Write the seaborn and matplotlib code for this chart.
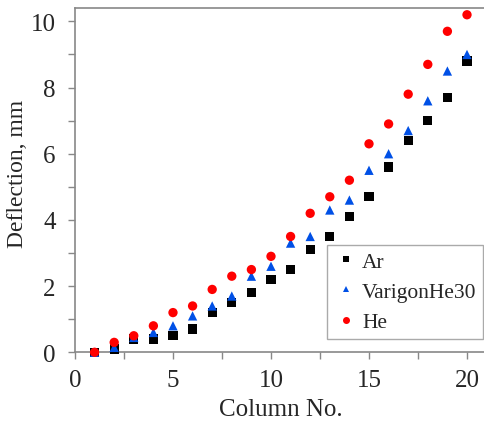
import numpy as np
import pandas as pd
import matplotlib
matplotlib.use("Agg")
import matplotlib.pyplot as plt
from matplotlib.ticker import MultipleLocator
import seaborn as sns

# column number 1..20
columns = list(range(1, 21))
ar = [0.0, 0.1, 0.4, 0.4, 0.5, 0.7, 1.2, 1.5, 1.8, 2.2,
      2.5, 3.1, 3.5, 4.1, 4.7, 5.6, 6.4, 7.0, 7.7, 8.8]
varigon = [0.0, 0.15, 0.45, 0.6, 0.8, 1.1, 1.4, 1.7, 2.3, 2.6,
           3.3, 3.5, 4.3, 4.6, 5.5, 6.0, 6.7, 7.6, 8.5, 9.0]
he = [0.0, 0.3, 0.5, 0.8, 1.2, 1.4, 1.9, 2.3, 2.5, 2.9,
      3.5, 4.2, 4.7, 5.2, 6.3, 6.9, 7.8, 8.7, 9.7, 10.2]
series_names = ["Ar", "VarigonHe30", "He"]

df = pd.DataFrame({
    "col": columns * 3,
    "defl": ar + varigon + he,
    "gas": np.repeat(series_names, len(columns)),
})

sns.set_style("ticks")
plt.rcParams["font.family"] = ["Liberation Serif", "DejaVu Serif"]

fig = plt.figure(figsize=(4.85, 4.27), dpi=100)
ax = fig.add_axes([0.1546, 0.1726, 0.8487, 0.806])

palette = {"Ar": "#000000", "VarigonHe30": "#0050E6", "He": "#FF0000"}
markers = {"Ar": "s", "VarigonHe30": "^", "He": "o"}
sns.scatterplot(data=df, x="col", y="defl", hue="gas", style="gas",
                palette=palette, markers=markers, s=45, linewidth=0,
                clip_on=False, ax=ax, zorder=3)

ax.set_xlim(0, 21)
ax.set_ylim(0, 10.4)
ax.xaxis.set_major_locator(MultipleLocator(5))
ax.xaxis.set_minor_locator(MultipleLocator(2.5))
ax.yaxis.set_major_locator(MultipleLocator(2))
ax.yaxis.set_minor_locator(MultipleLocator(1))
ax.tick_params(which="both", direction="out", length=5, width=1,
               color="#888888", labelsize=18)
ax.tick_params(axis="x", pad=7)
ax.tick_params(axis="y", pad=9)

for side in ["left", "bottom", "top"]:
    ax.spines[side].set_color("#888888")
    ax.spines[side].set_linewidth(1.2)
ax.spines["right"].set_visible(False)

ax.set_xlabel("Column No.", fontsize=18, labelpad=5)
ax.set_ylabel("Deflection, mm", fontsize=17)
ax.yaxis.set_label_coords(-0.113, 0.52)

handles, labels = ax.get_legend_handles_labels()
leg = ax.legend(handles, labels, loc="lower right",
                bbox_to_anchor=(0.991, 0.039), borderaxespad=0,
                fontsize=15.5, frameon=True, fancybox=False,
                framealpha=1, handletextpad=0.15, handlelength=1.15,
                borderpad=0.3, labelspacing=0.48, markerscale=0.75)
leg.get_frame().set_edgecolor("#aaaaaa")
leg.get_frame().set_linewidth(1.0)
leg.set_zorder(5)

fig.savefig("out.png", dpi=100)
